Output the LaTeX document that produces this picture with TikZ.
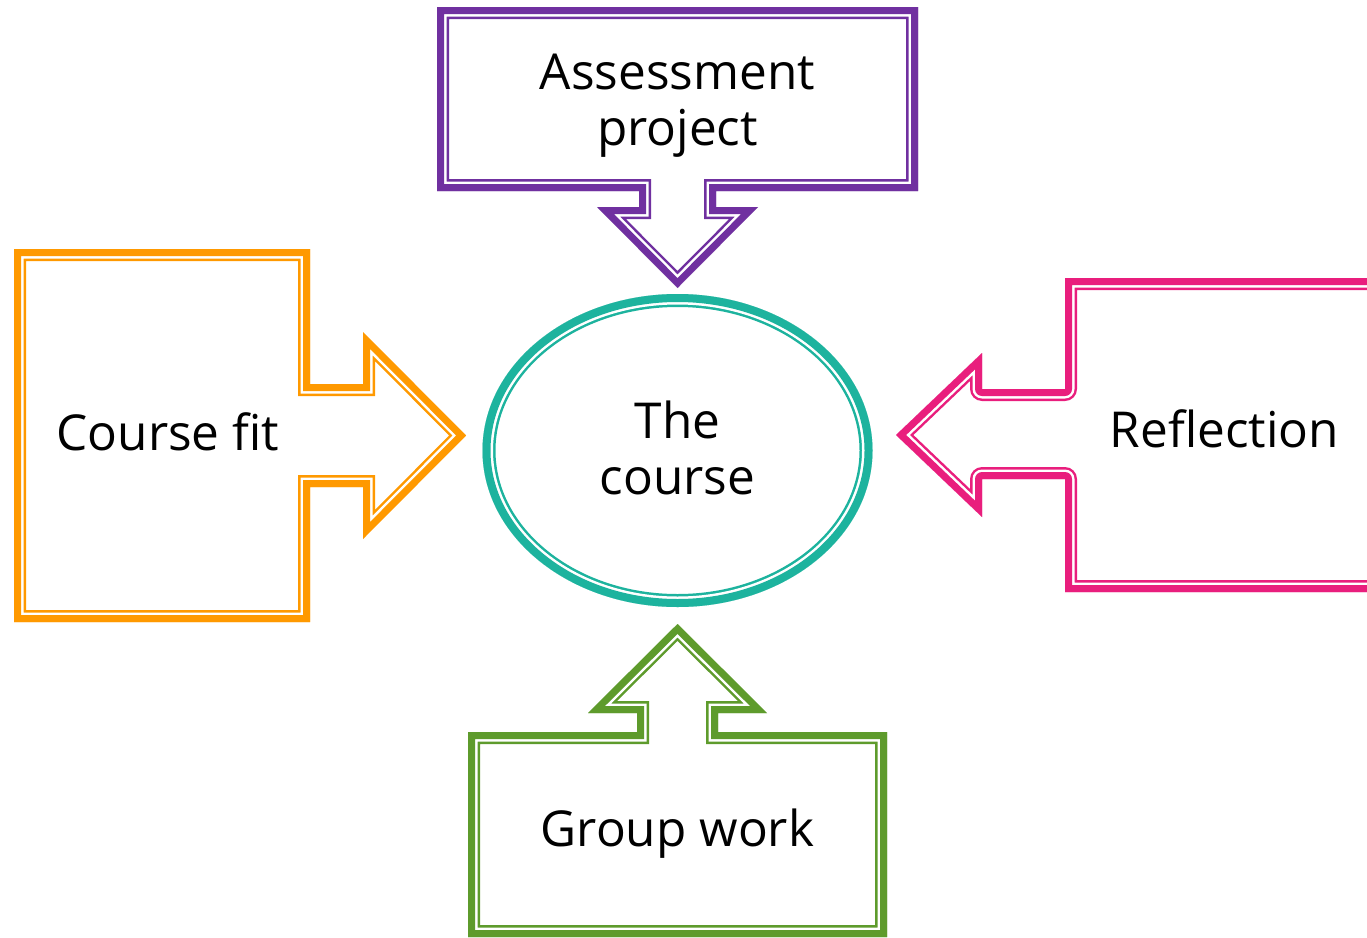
\documentclass[tikz,border=0pt]{standalone}
\usepackage{fontspec}
\setmainfont{Open Sans}
\definecolor{cpurple}{HTML}{7030A0}
\definecolor{corange}{HTML}{FF9900}
\definecolor{cgreen}{HTML}{5E9B2C}
\definecolor{cteal}{HTML}{1DB39E}
\definecolor{cpink}{HTML}{E91E7D}
% Thick-thin compound outline drawn on the inside of a closed path:
% #1 colour, #2 extra options, #3 path, #4/#5/#6 = 2*total, 2*(thick+gap), 2*thick
\newcommand\thickthin[6]{%
  \begin{scope}
    \clip #3;
    \draw[#1, #2, line width=#4pt] #3;
    \draw[white, #2, line width=#5pt] #3;
    \draw[#1, #2, line width=#6pt] #3;
  \end{scope}}
\tikzset{
  label/.style={font=\fontsize{49.5}{56}\selectfont, inner sep=0pt, align=center, text=black},
}
\begin{document}
\begin{tikzpicture}[x=1pt,y=-1pt]
  \useasboundingbox (0,0) rectangle (1367,937);
  \clip (0,0) rectangle (1367,937);

  % top callout, arrow pointing down
  \thickthin{cpurple}{line join=miter}
    {(437,7) -- (918,7) -- (918,191) -- (716,191) -- (716,207) -- (758,207)
     -- (677.5,288) -- (597,207) -- (639,207) -- (639,191) -- (437,191) -- cycle}
    {24}{19}{14}

  % left callout, arrow pointing right
  \thickthin{corange}{line join=miter}
    {(14,249) -- (310,249) -- (310,384) -- (363,384) -- (363,332) -- (466,435.5)
     -- (363,539) -- (363,487) -- (310,487) -- (310,622) -- (14,622) -- cycle}
    {24}{19}{14}

  % bottom callout, arrow pointing up
  \thickthin{cgreen}{line join=miter}
    {(468,937) -- (468,732) -- (637,732) -- (637,713) -- (588,713) -- (677.5,624)
     -- (767,713) -- (718,713) -- (718,732) -- (887,732) -- (887,937) -- cycle}
    {24}{19}{14}

  % right callout, arrow pointing left
  \thickthin{cpink}{line join=round}
    {(1400,278) -- (1065,278) -- (1065,389) -- (982,389) -- (982,353) -- (896,435)
     -- (982,517) -- (982,479) -- (1065,479) -- (1065,592) -- (1400,592) -- cycle}
    {24}{19}{14}

  % central ellipse
  \thickthin{cteal}{}
    {(677.5,450.5) ellipse [x radius=195, y radius=156.5]}
    {26}{21}{16}

  \node[label] (assess) at (677.5,106) {Assessment\\project};
  \node[label, anchor=base] (fit) at (168,450) {Course fit};
  \node[label, anchor=base] (refl) at (1224.5,447) {Reflection};
  \node[label, anchor=base] (group) at (677.5,846) {Group work};
  \node[label] (course) at (677.5,448) {The\\course};
\end{tikzpicture}
\end{document}
